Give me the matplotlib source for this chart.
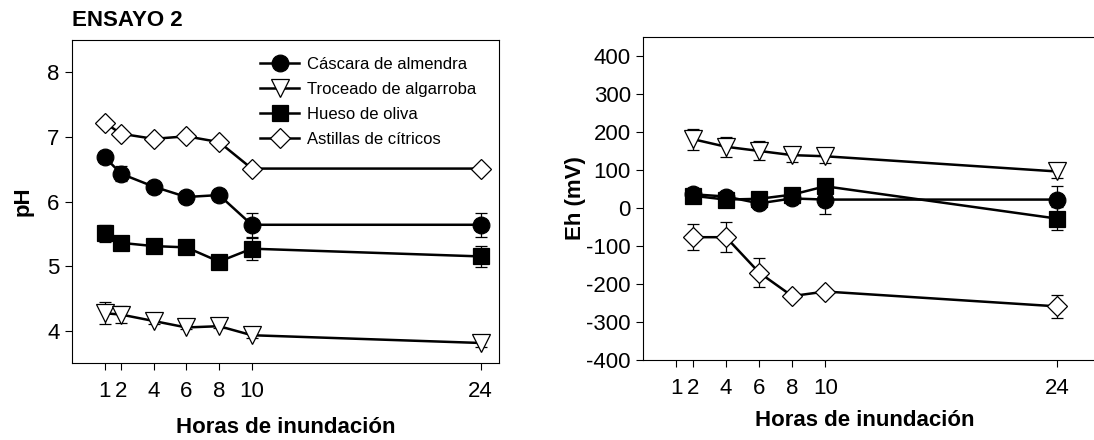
import matplotlib
matplotlib.use("Agg")
import matplotlib.pyplot as plt

plt.rcParams['font.family'] = ['Liberation Sans', 'DejaVu Sans']
plt.rcParams['axes.unicode_minus'] = False

# horas de inundación
horas_ph = [1, 2, 4, 6, 8, 10, 24]
horas_eh = [2, 4, 6, 8, 10, 24]
xticks = [1, 2, 4, 6, 8, 10, 24]

series = ["Cáscara de almendra", "Troceado de algarroba", "Hueso de oliva", "Astillas de cítricos"]

# pH
ph_cascara = [6.69, 6.43, 6.23, 6.07, 6.10, 5.64, 5.64]
ph_cascara_err = [0.03, 0.12, 0.03, 0.03, 0.03, 0.19, 0.19]
ph_troceado = [4.27, 4.25, 4.15, 4.05, 4.07, 3.93, 3.81]
ph_troceado_err = [0.17, 0.13, 0.05, 0.03, 0.03, 0.05, 0.06]
ph_hueso = [5.51, 5.36, 5.31, 5.29, 5.07, 5.27, 5.15]
ph_hueso_err = [0.13, 0.05, 0.05, 0.05, 0.05, 0.17, 0.16]
ph_astillas = [7.22, 7.05, 6.97, 7.01, 6.92, 6.51, 6.51]
ph_astillas_err = [0.03, 0.03, 0.03, 0.03, 0.03, 0.03, 0.03]

# Eh (mV)
eh_cascara = [36, 30, 12, 25, 22, 22]
eh_cascara_err = [8, 6, 10, 8, 37, 35]
eh_troceado = [181, 161, 150, 139, 136, 96]
eh_troceado_err = [28, 27, 25, 17, 19, 17]
eh_hueso = [32, 22, 24, 35, 57, -28]
eh_hueso_err = [8, 8, 8, 8, 10, 31]
eh_astillas = [-77, -77, -170, -232, -220, -259]
eh_astillas_err = [34, 40, 37, 5, 5, 31]

estilos = [
    dict(marker='o', mfc='black', ms=12),
    dict(marker='v', mfc='white', ms=13),
    dict(marker='s', mfc='black', ms=11),
    dict(marker='D', mfc='white', ms=10.5),
]

fig = plt.figure(figsize=(10.94, 4.4), dpi=100)
ax1 = fig.add_axes([0.0658, 0.175, 0.390, 0.734])
# el panel derecho queda cortado por el borde de la figura
ax2 = fig.add_axes([0.588, 0.182, 0.4174, 0.734])


def dibujar(ax, x, ys, errs):
    for nombre, y, e, st in zip(series, ys, errs, estilos):
        ax.errorbar(x, y, yerr=e, fmt='none', ecolor='black', elinewidth=0.9,
                    capsize=4.5, capthick=0.9, zorder=2)
        ax.plot(x, y, color='black', lw=1.8, mec='black', mew=0.9,
                label=nombre, zorder=3, **st)
    ax.set_xticks(xticks)
    ax.tick_params(direction='out', length=5, width=0.8, labelsize=16)
    ax.tick_params(axis='x', pad=8)
    ax.tick_params(axis='y', pad=4)
    for s in ax.spines.values():
        s.set_linewidth(0.8)


dibujar(ax1, horas_ph, [ph_cascara, ph_troceado, ph_hueso, ph_astillas],
        [ph_cascara_err, ph_troceado_err, ph_hueso_err, ph_astillas_err])
ax1.set_xlim(-1.0, 25.1)
ax1.set_ylim(3.5, 8.5)
ax1.set_yticks([4, 5, 6, 7, 8])
ax1.set_xlabel("Horas de inundación", fontsize=16, fontweight='bold', labelpad=11)
ax1.set_ylabel("pH", fontsize=16, fontweight='bold', labelpad=10)
ax1.legend(loc='upper right', bbox_to_anchor=(0.975, 0.985), frameon=False, fontsize=12,
           handlelength=2.3, handletextpad=0.5, labelspacing=0.6, borderaxespad=0.3)

dibujar(ax2, horas_eh, [eh_cascara, eh_troceado, eh_hueso, eh_astillas],
        [eh_cascara_err, eh_troceado_err, eh_hueso_err, eh_astillas_err])
ax2.set_xlim(-1.0, 26.6)
ax2.set_ylim(-400, 450)
ax2.set_yticks(range(-400, 401, 100))
ax2.set_xlabel("Horas de inundación", fontsize=16, fontweight='bold', labelpad=6)
ax2.xaxis.set_label_coords(0.486, -0.155)
ax2.set_ylabel("Eh (mV)", fontsize=16, fontweight='bold', labelpad=0)

fig.text(0.0658, 0.953, "ENSAYO 2", fontsize=16, fontweight='bold', va='center', ha='left')

fig.savefig("out.png", dpi=100)
